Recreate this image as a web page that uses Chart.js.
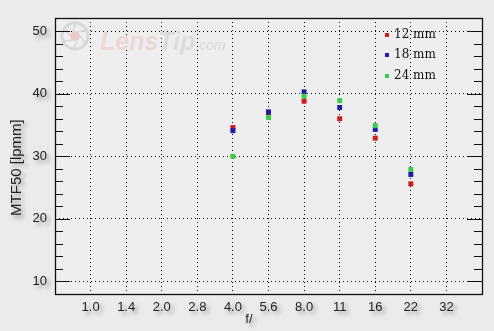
<!DOCTYPE html>
<html lang="en">
<head>
    <meta charset="UTF-8">
    <title>MTF50 chart</title>
    <script src="https://cdn.jsdelivr.net/npm/chart.js@4.4.1/dist/chart.umd.min.js"></script>
    <style>
        body { margin: 0; background: #ebebeb; }
    </style>
</head>
<body>

    <canvas id="myChart" width="494" height="331"></canvas>

    <script>
        // data
        const fLabels = ['1.0', '1.4', '2.0', '2.8', '4.0', '5.6', '8.0', '11', '16', '22', '32'];
        const usedApertures = ['4.0', '5.6', '8.0', '11', '16', '22'];
        const mtf12 = [34.6, 36.7, 38.8, 36.0, 32.9, 25.6];
        const mtf18 = [34.1, 37.1, 40.3, 37.8, 34.3, 27.1];
        const mtf24 = [30.0, 36.2, 39.6, 38.9, 34.9, 27.9];
        const seriesNames = ['12 mm', '18 mm', '24 mm'];
        const yTicks = [10, 20, 30, 40, 50];

        const colors = ['#cc1c1c', '#1c1ca8', '#3ccc4c'];

        function toPoints(vals) {
            return vals.map((v, i) => ({ x: fLabels.indexOf(usedApertures[i]), y: v }));
        }

        const labelFont = { family: 'Liberation Sans, Arial, sans-serif', size: 13 };

        const lensPlugin = {
            id: 'lensPlugin',
            beforeDraw(chart) {
                const { ctx, chartArea: a } = chart;
                ctx.save();
                ctx.fillStyle = '#eeeeee';
                ctx.fillRect(a.left, a.top, a.right - a.left, a.bottom - a.top);
                ctx.restore();
            },
            beforeDatasetsDraw(chart) {
                // faint watermark
                const { ctx, chartArea: a } = chart;
                ctx.save();
                const cx = a.left + 20, cy = a.top + 18;
                ctx.strokeStyle = '#d8d8d8';
                ctx.lineWidth = 3;
                ctx.beginPath();
                ctx.arc(cx, cy, 13, 0, Math.PI * 2);
                ctx.stroke();
                ctx.lineWidth = 1.5;
                for (let k = 0; k < 6; k++) {
                    const t = k * Math.PI / 3;
                    ctx.beginPath();
                    ctx.moveTo(cx + 5 * Math.cos(t), cy + 5 * Math.sin(t));
                    ctx.lineTo(cx + 12 * Math.cos(t + 0.6), cy + 12 * Math.sin(t + 0.6));
                    ctx.stroke();
                }
                ctx.fillStyle = '#e8cccc';
                ctx.beginPath();
                ctx.arc(cx, cy, 5, 0, Math.PI * 2);
                ctx.fill();
                ctx.textBaseline = 'alphabetic';
                ctx.font = 'italic bold 25px Liberation Sans, Arial, sans-serif';
                ctx.fillStyle = '#ecd6d6';
                ctx.fillText('Lens', a.left + 45, a.top + 32);
                let w = ctx.measureText('Lens').width;
                ctx.fillStyle = '#dcdcdc';
                ctx.fillText('Tip', a.left + 45 + w, a.top + 32);
                w += ctx.measureText('Tip').width;
                ctx.font = 'italic 14px Liberation Sans, Arial, sans-serif';
                ctx.fillStyle = '#d8d8d8';
                ctx.fillText('.com', a.left + 45 + w, a.top + 32);
                ctx.restore();
            },
            afterDatasetsDraw(chart) {
                // labels drawn from here on get the soft shadow
                const { ctx, chartArea: a, scales } = chart;
                ctx.save();
                ctx.shadowColor = 'rgba(0,0,0,0.38)';
                ctx.shadowBlur = 4;
                ctx.shadowOffsetX = 3;
                ctx.shadowOffsetY = 3;
                ctx.fillStyle = '#222';
                ctx.textAlign = 'center';
                ctx.textBaseline = 'middle';
                ctx.font = '13px Liberation Sans, Arial, sans-serif';
                ctx.fillText('f/', scales.x.getPixelForValue(4.45), a.bottom + 25);
                ctx.save();
                ctx.translate(17, scales.y.getPixelForValue(28.2));
                ctx.rotate(-Math.PI / 2);
                ctx.font = '15px Liberation Sans, Arial, sans-serif';
                ctx.fillText('MTF50 [lpmm]', 0, 0);
                ctx.restore();
            },
            afterDraw(chart) {
                const { ctx, chartArea: a, scales } = chart;
                ctx.restore();
                ctx.save();
                // frame
                ctx.strokeStyle = '#111';
                ctx.lineWidth = 1.3;
                ctx.strokeRect(Math.round(a.left) + 0.5, Math.round(a.top) + 0.5,
                    Math.round(a.right - a.left), Math.round(a.bottom - a.top));
                // inward tick marks on both sides
                ctx.lineWidth = 1;
                for (let v = yTicks[0]; v <= yTicks[yTicks.length - 1]; v += 2) {
                    const y = Math.round(scales.y.getPixelForValue(v)) + 0.5;
                    const len = yTicks.includes(v) ? 15 : 8;
                    ctx.beginPath();
                    ctx.moveTo(a.left, y);
                    ctx.lineTo(a.left + len, y);
                    ctx.moveTo(a.right, y);
                    ctx.lineTo(a.right - len, y);
                    ctx.stroke();
                }
                // legend
                ctx.font = '12px DejaVu Serif, serif';
                ctx.textBaseline = 'middle';
                ctx.textAlign = 'left';
                chart.data.datasets.forEach((ds, i) => {
                    const y = a.top + 16.5 + i * 20.5;
                    ctx.fillStyle = ds.backgroundColor;
                    ctx.fillRect(a.right - 97, Math.round(y) - 2, 4, 4);
                    ctx.fillStyle = '#111';
                    ctx.fillText(ds.label, a.right - 88, y);
                });
                ctx.restore();
            }
        };

        const gridScale = {
            min: -1,
            max: 11,
            ticks: { display: false },
            grid: { color: '#000', lineWidth: 1, drawTicks: false },
            border: { display: false, dash: [1, 3] },
            afterBuildTicks: s => { s.ticks = fLabels.map((l, i) => ({ value: i })); },
            afterFit: s => { s.height = 0; }
        };

        const ctx = document.getElementById('myChart').getContext('2d');
        const myChart = new Chart(ctx, {
            type: 'scatter',
            data: {
                datasets: [
                    { label: seriesNames[0], data: toPoints(mtf12), backgroundColor: colors[0], order: 2 },
                    { label: seriesNames[1], data: toPoints(mtf18), backgroundColor: colors[1], order: 1 },
                    { label: seriesNames[2], data: toPoints(mtf24), backgroundColor: colors[2], order: 0 }
                ]
            },
            options: {
                responsive: false,
                animation: false,
                events: [],
                layout: { padding: { top: 18, right: 12, left: 0, bottom: 0 } },
                elements: {
                    point: { pointStyle: 'rect', radius: 3.5, borderWidth: 0 }
                },
                plugins: {
                    legend: { display: false },
                    tooltip: { enabled: false }
                },
                scales: {
                    x: {
                        type: 'linear',
                        position: 'bottom',
                        min: -1,
                        max: 11,
                        grid: { display: false, drawTicks: false },
                        border: { display: false },
                        ticks: {
                            z: 1,
                            color: '#222',
                            font: labelFont,
                            padding: 6,
                            maxRotation: 0,
                            callback: v => fLabels[v]
                        },
                        afterBuildTicks: s => { s.ticks = fLabels.map((l, i) => ({ value: i })); },
                        afterFit: s => { s.height = 37; }
                    },
                    x2: Object.assign({ type: 'linear', position: 'top' }, gridScale),
                    y: {
                        position: 'left',
                        min: 8,
                        max: 52.1,
                        grid: { display: false, drawTicks: false },
                        border: { display: false },
                        ticks: { z: 1, color: '#222', font: labelFont, padding: 8 },
                        afterBuildTicks: s => { s.ticks = yTicks.map(v => ({ value: v })); },
                        afterFit: s => { s.width = 55; }
                    },
                    y2: {
                        position: 'right',
                        min: 8,
                        max: 52.1,
                        ticks: { display: false },
                        grid: { color: '#000', lineWidth: 1, drawTicks: false },
                        border: { display: false, dash: [1, 3] },
                        afterBuildTicks: s => { s.ticks = yTicks.map(v => ({ value: v })); },
                        afterFit: s => { s.width = 0; }
                    }
                }
            },
            plugins: [lensPlugin]
        });
    </script>
</body>
</html>
